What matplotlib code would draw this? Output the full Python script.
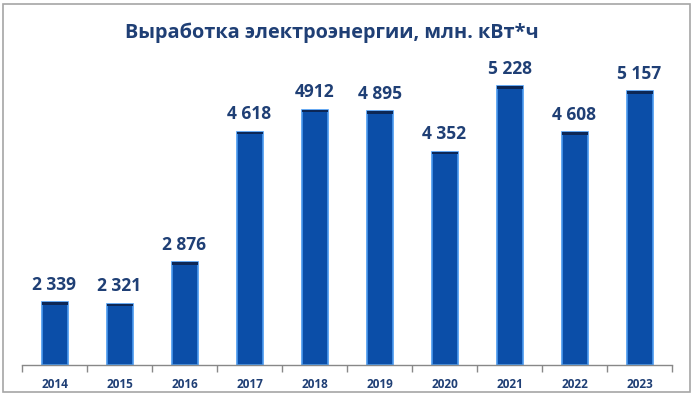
import matplotlib.pyplot as plt
from matplotlib.patches import Rectangle

years = ["2014", "2015", "2016", "2017", "2018", "2019", "2020", "2021", "2022", "2023"]
values = [2339, 2321, 2876, 4618, 4912, 4895, 4352, 5228, 4608, 5157]
labels = ["2 339", "2 321", "2 876", "4 618", "4912", "4 895", "4 352", "5 228", "4 608", "5 157"]

navy = "#1f3f75"
plt.rcParams['font.family'] = ['Open Sans', 'DejaVu Sans']

fig = plt.figure(figsize=(6.96, 3.94), dpi=100)
# outer frame
fig.patches.append(Rectangle((0.004, 0.006), 0.988, 0.985, transform=fig.transFigure,
                             fill=False, edgecolor="#a6a6a6", linewidth=1.2))

ax = fig.add_axes([22/696, 29/394, 650/696, 305/394])
x = range(len(years))
ymin, ymax = 1500, 5575
ax.bar(x, [v - ymin for v in values], bottom=ymin, width=0.4,
       color="#0b4ea8", edgecolor="#4a9af0", linewidth=1.2, zorder=2)
# dark top caps
ax.bar(x, [35] * len(values), bottom=[v - 35 for v in values], width=0.4,
       color="#0c2756", linewidth=0, zorder=3)

for i, (v, t) in enumerate(zip(values, labels)):
    ax.text(i, v + 110, t, ha="center", va="bottom", fontsize=12.5,
            fontweight="bold", color=navy)

ax.set_xlim(-0.5, len(years) - 0.5)
ax.set_ylim(ymin, ymax)
ax.set_xticks([i - 0.5 for i in range(len(years) + 1)], minor=False)
ax.set_xticklabels([])
ax.set_xticks(list(x), minor=True)
ax.set_xticklabels(years, minor=True, fontsize=8.5, fontweight="bold", color=navy)
ax.tick_params(axis="x", which="major", length=5, color="#888888", width=1)
ax.tick_params(axis="x", which="minor", length=0, pad=9)
ax.set_yticks([])
for s in ["top", "right", "left"]:
    ax.spines[s].set_visible(False)
ax.spines["bottom"].set_color("#888888")
ax.spines["bottom"].set_linewidth(1)

fig.text(0.477, 0.917, "Выработка электроэнергии, млн. кВт*ч", ha="center", va="center",
         fontsize=14.3, fontweight="bold", color=navy)

fig.savefig("out.png", dpi=100)
